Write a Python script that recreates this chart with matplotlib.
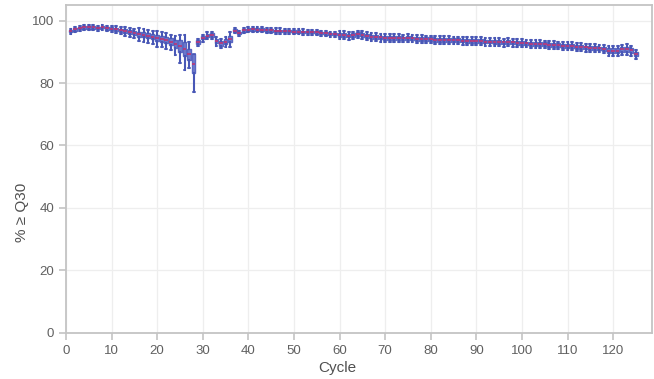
import matplotlib
matplotlib.use("Agg")
import matplotlib.pyplot as plt

cycles = list(range(1, 126))

median = [
    96.6, 97.2, 97.7, 97.8, 97.8, 97.8, 97.7, 97.9, 97.5, 97.4,
    97.2, 96.9, 96.6, 96.4, 96.1, 95.7, 95.4, 95.1, 94.8, 94.5,
    94.2, 93.8, 93.3, 92.6, 91.9, 90.8, 89.2, 86.2, 93.2, 94.5,
    95.2, 95.4, 93.4, 92.7, 93.3, 94.1, 96.8, 96.0, 96.9, 97.1,
    97.2, 97.1, 97.1, 96.9, 96.9, 96.7, 96.7, 96.6, 96.6, 96.5,
    96.5, 96.4, 96.3, 96.3, 96.2, 96.0, 95.9, 95.7, 95.7, 95.5,
    95.4, 95.2, 95.3, 95.6, 95.5, 95.0, 94.8, 94.7, 94.6, 94.5,
    94.5, 94.4, 94.4, 94.3, 94.4, 94.3, 94.2, 94.2, 94.0, 94.0,
    93.9, 93.9, 93.8, 93.8, 93.7, 93.7, 93.6, 93.5, 93.5, 93.5,
    93.4, 93.3, 93.3, 93.2, 93.2, 93.0, 93.1, 93.0, 92.9, 92.8,
    92.7, 92.6, 92.6, 92.5, 92.4, 92.3, 92.2, 92.1, 91.9, 91.8,
    91.8, 91.6, 91.5, 91.4, 91.3, 91.2, 91.1, 90.9, 90.4, 90.3,
    90.4, 90.8, 90.9, 90.5, 89.2,
]

box_half = [
    0.4, 0.4, 0.4, 0.4, 0.4, 0.4, 0.4, 0.4, 0.4, 0.5,
    0.5, 0.5, 0.7, 0.7, 0.7, 0.8, 0.8, 0.8, 0.8, 1.0,
    1.0, 1.0, 1.0, 1.3, 1.8, 2.2, 1.8, 3.0, 0.6, 0.5,
    0.5, 0.5, 0.7, 0.7, 0.7, 0.9, 0.4, 0.4, 0.4, 0.4,
    0.4, 0.4, 0.4, 0.4, 0.4, 0.4, 0.4, 0.4, 0.4, 0.4,
    0.4, 0.4, 0.4, 0.4, 0.4, 0.4, 0.4, 0.4, 0.4, 0.6,
    0.6, 0.6, 0.6, 0.6, 0.6, 0.6, 0.6, 0.6, 0.6, 0.6,
    0.6, 0.6, 0.6, 0.6, 0.6, 0.6, 0.6, 0.6, 0.6, 0.6,
    0.6, 0.6, 0.6, 0.6, 0.6, 0.6, 0.6, 0.6, 0.6, 0.6,
    0.6, 0.6, 0.6, 0.6, 0.6, 0.6, 0.6, 0.6, 0.6, 0.6,
    0.6, 0.6, 0.6, 0.6, 0.6, 0.6, 0.6, 0.6, 0.6, 0.6,
    0.6, 0.6, 0.6, 0.6, 0.6, 0.6, 0.6, 0.6, 0.8, 0.8,
    0.8, 0.8, 0.8, 0.8, 0.7,
]

whisk_down = [
    0.9, 0.9, 0.9, 0.9, 0.9, 0.9, 0.9, 0.9, 0.9, 1.2,
    1.2, 1.2, 1.6, 1.6, 1.6, 2.2, 2.2, 2.2, 2.2, 2.8,
    2.8, 2.8, 2.8, 3.5, 5.5, 6.5, 4.5, 9.0, 1.2, 1.2,
    1.2, 1.2, 1.6, 1.6, 1.6, 2.6, 0.9, 0.9, 0.9, 0.9,
    0.9, 0.9, 0.9, 0.9, 0.9, 0.9, 0.9, 0.9, 0.9, 0.9,
    0.9, 0.9, 0.9, 0.9, 0.9, 0.9, 0.9, 0.9, 0.9, 1.3,
    1.3, 1.3, 1.3, 1.3, 1.3, 1.3, 1.3, 1.3, 1.3, 1.3,
    1.3, 1.3, 1.3, 1.3, 1.3, 1.3, 1.3, 1.3, 1.3, 1.3,
    1.3, 1.3, 1.3, 1.3, 1.3, 1.3, 1.3, 1.3, 1.3, 1.3,
    1.3, 1.3, 1.3, 1.3, 1.3, 1.3, 1.3, 1.3, 1.3, 1.3,
    1.3, 1.3, 1.3, 1.3, 1.3, 1.3, 1.3, 1.3, 1.3, 1.3,
    1.3, 1.3, 1.3, 1.3, 1.3, 1.3, 1.3, 1.3, 1.8, 1.8,
    1.8, 1.8, 1.8, 1.8, 1.6,
]

whisk_up = [
    0.7, 0.7, 0.7, 0.7, 0.7, 0.7, 0.7, 0.7, 0.7, 1.0,
    1.0, 1.0, 1.3, 1.3, 1.3, 1.8, 1.8, 1.8, 1.8, 2.2,
    2.2, 2.2, 2.2, 2.5, 3.5, 4.5, 4.0, 3.2, 1.0, 1.0,
    1.0, 1.0, 1.4, 1.4, 1.4, 2.2, 0.8, 0.8, 0.8, 0.8,
    0.8, 0.8, 0.8, 0.8, 0.8, 0.8, 0.8, 0.8, 0.8, 0.8,
    0.8, 0.8, 0.8, 0.8, 0.8, 0.8, 0.8, 0.8, 0.8, 1.2,
    1.2, 1.2, 1.2, 1.2, 1.2, 1.2, 1.2, 1.2, 1.2, 1.2,
    1.2, 1.2, 1.2, 1.2, 1.2, 1.2, 1.2, 1.2, 1.2, 1.2,
    1.2, 1.2, 1.2, 1.2, 1.2, 1.2, 1.2, 1.2, 1.2, 1.2,
    1.2, 1.2, 1.2, 1.2, 1.2, 1.2, 1.2, 1.2, 1.2, 1.2,
    1.2, 1.2, 1.2, 1.2, 1.2, 1.2, 1.2, 1.2, 1.2, 1.2,
    1.2, 1.2, 1.2, 1.2, 1.2, 1.2, 1.2, 1.2, 1.5, 1.5,
    1.5, 1.5, 1.5, 1.5, 1.3,
]

x_ticks = [0, 10, 20, 30, 40, 50, 60, 70, 80, 90, 100, 110, 120]
y_ticks = [0, 20, 40, 60, 80, 100]

plt.rcParams['font.family'] = ['Liberation Sans', 'DejaVu Sans']

fig = plt.figure(figsize=(6.54, 3.79), dpi=100)
ax = fig.add_axes([66 / 654, (379 - 332.7) / 379, (652.3 - 66) / 654, (332.7 - 5) / 379])

stats = []
for c, m, b, d, u in zip(cycles, median, box_half, whisk_down, whisk_up):
    stats.append({
        'med': m, 'q1': m - b, 'q3': m + b,
        'whislo': m - d, 'whishi': m + u, 'fliers': [],
    })

blue = '#4857b6'
ax.bxp(stats, positions=cycles, widths=0.8, showfliers=False,
       patch_artist=True, manage_ticks=False,
       boxprops=dict(facecolor='#6f7bcc', edgecolor='#5a67c2', linewidth=1.0),
       whiskerprops=dict(color=blue, linewidth=1.5),
       capprops=dict(color=blue, linewidth=1.2),
       medianprops=dict(color='#c2306e', linewidth=1.1))

ax.set_xlim(0, 128.6)
ax.set_ylim(0, 105)
ax.set_xticks(x_ticks)
ax.set_yticks(y_ticks)
ax.set_xticklabels([str(t) for t in x_ticks])
ax.set_yticklabels([str(t) for t in y_ticks])

ax.grid(True, color='#eeeeee', linewidth=0.9)
ax.set_axisbelow(True)
for s in ax.spines.values():
    s.set_color('#c4c4c4')
    s.set_linewidth(1.3)
ax.tick_params(axis='both', colors='#c4c4c4', labelcolor='#606060',
               labelsize=9.5, length=5, width=1.2, direction='out')

ax.set_xlabel('Cycle', fontsize=11, color='#505050')
ax.xaxis.set_label_coords(0.462, -0.086)
ax.set_ylabel('% ≥ Q30', fontsize=11, color='#505050')
ax.yaxis.set_label_coords(-0.063, 0.368)

fig.savefig('out.png', dpi=100)
